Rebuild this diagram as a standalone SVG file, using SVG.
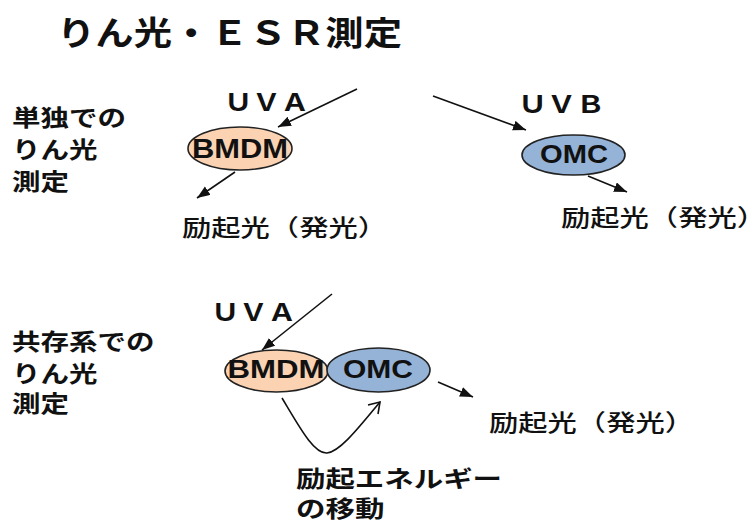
<svg xmlns="http://www.w3.org/2000/svg" width="751" height="523" viewBox="0 0 751 523">
<style>
.jp{font-family:"Noto Sans CJK JP","Noto Sans CJK SC",sans-serif;fill:#111}
.t{font-size:33px;font-weight:bold}
.lbl{font-size:23px;font-weight:bold}
.em{font-size:23px;font-weight:500}
.tr{font-size:23px;font-weight:bold}
.uv{font-size:24px;font-weight:bold}
.en{font-family:"Liberation Sans",Arial,sans-serif;font-weight:bold;fill:#111;text-anchor:middle}
.bm{fill:#FBD3B3;stroke:#222;stroke-width:1.6}
.om{fill:#95B3D7;stroke:#222;stroke-width:1.6}
.ln{stroke:#111;stroke-width:1.6;fill:none}
</style>
<defs>
<marker id="ah" markerUnits="userSpaceOnUse" markerWidth="14" markerHeight="12" refX="13" refY="5" orient="auto">
<path d="M0,0 L13,5 L0,10 z" fill="#111"/>
</marker>
</defs>
<rect width="751" height="523" fill="#fff"/>
<text class="jp t" x="57" y="45" textLength="345" lengthAdjust="spacingAndGlyphs">りん光・ＥＳＲ測定</text>
<g id="label-single">
<text class="jp lbl" x="12" y="126" textLength="114" lengthAdjust="spacingAndGlyphs">単独での</text>
<text class="jp lbl" x="12" y="158" textLength="85.5" lengthAdjust="spacingAndGlyphs">りん光</text>
<text class="jp lbl" x="12" y="190" textLength="57" lengthAdjust="spacingAndGlyphs">測定</text>
</g>
<g id="label-coexist">
<text class="jp lbl" x="12" y="350" textLength="142.5" lengthAdjust="spacingAndGlyphs">共存系での</text>
<text class="jp lbl" x="12" y="382" textLength="85.5" lengthAdjust="spacingAndGlyphs">りん光</text>
<text class="jp lbl" x="12" y="412" textLength="57" lengthAdjust="spacingAndGlyphs">測定</text>
</g>
<g id="uva1"><text class="jp uv" x="224" y="111" textLength="85" lengthAdjust="spacingAndGlyphs">ＵＶＡ</text></g>
<g id="uvb"><text class="jp uv" x="518" y="113" textLength="87" lengthAdjust="spacingAndGlyphs">ＵＶＢ</text></g>
<g id="uva2"><text class="jp uv" x="211" y="321" textLength="85" lengthAdjust="spacingAndGlyphs">ＵＶＡ</text></g>
<g id="bmdm1">
<ellipse class="bm" cx="240" cy="148.5" rx="52" ry="21.5"/>
<text class="en" x="240" y="158" font-size="28" textLength="96" lengthAdjust="spacingAndGlyphs">BMDM</text>
</g>
<g id="omc1">
<ellipse class="om" cx="573.5" cy="155" rx="51.5" ry="20"/>
<text class="en" x="574" y="163" font-size="25" textLength="68" lengthAdjust="spacingAndGlyphs">OMC</text>
</g>
<g id="bmdm2">
<ellipse class="bm" cx="276.5" cy="371" rx="51.5" ry="21"/>
<text class="en" x="276" y="378" font-size="25" textLength="97" lengthAdjust="spacingAndGlyphs">BMDM</text>
</g>
<g id="omc2">
<ellipse class="om" cx="378.5" cy="370" rx="51.5" ry="22"/>
<text class="en" x="378" y="378" font-size="25" textLength="70" lengthAdjust="spacingAndGlyphs">OMC</text>
</g>
<g id="emit1"><text class="jp em" x="182" y="236" textLength="205" lengthAdjust="spacingAndGlyphs">励起光（発光）</text></g>
<g id="emit2"><text class="jp em" x="561" y="226" textLength="205" lengthAdjust="spacingAndGlyphs">励起光（発光）</text></g>
<g id="emit3"><text class="jp em" x="489" y="431" textLength="205" lengthAdjust="spacingAndGlyphs">励起光（発光）</text></g>
<g id="transfer">
<text class="jp tr" x="296" y="487" textLength="206" lengthAdjust="spacingAndGlyphs">励起エネルギー</text>
<text class="jp tr" x="296" y="517" textLength="88.5" lengthAdjust="spacingAndGlyphs">の移動</text>
</g>
<g id="connectors">
<line class="ln" x1="357" y1="89" x2="278" y2="127" marker-end="url(#ah)"/>
<line class="ln" x1="235" y1="172" x2="197" y2="198" marker-end="url(#ah)"/>
<line class="ln" x1="433" y1="96" x2="526" y2="130" marker-end="url(#ah)"/>
<line class="ln" x1="588" y1="176" x2="627" y2="192" marker-end="url(#ah)"/>
<line class="ln" x1="332" y1="294" x2="262" y2="350" marker-end="url(#ah)"/>
<line class="ln" x1="438" y1="382" x2="473" y2="397" marker-end="url(#ah)"/>
<path class="ln" d="M282,398 C300,428 314,454 327,453 C340,452 360,426 380,402"/>
<path class="ln" d="M368,405 L380,402 L378,414"/>
</g>
</svg>
